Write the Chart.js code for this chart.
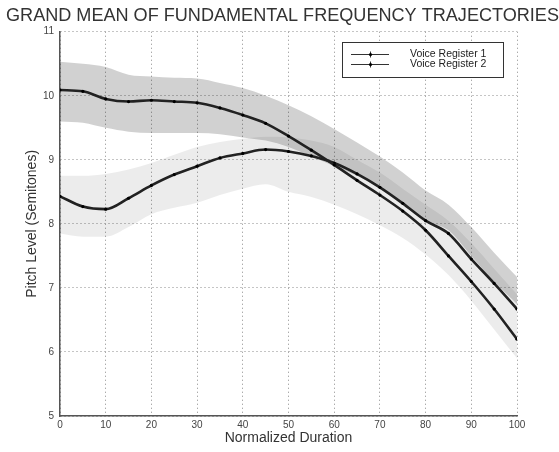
<!DOCTYPE html>
<html><head><meta charset="utf-8">
<script src="https://cdn.jsdelivr.net/npm/chart.js@4.4.1/dist/chart.umd.min.js"></script>
<style>html,body{margin:0;padding:0;background:#fff;}</style>
</head><body>
<canvas id="c" width="559" height="452"></canvas>
<script>
// ---- data ----
const durations = [0,5,10,15,20,25,30,35,40,45,50,55,60,65,70,75,80,85,90,95,100];
const register1 = [10.09,10.07,9.95,9.91,9.93,9.91,9.89,9.81,9.70,9.57,9.37,9.15,8.92,8.68,8.45,8.20,7.90,7.50,7.10,6.67,6.20];
const register2 = [8.43,8.27,8.23,8.40,8.60,8.77,8.90,9.03,9.10,9.16,9.13,9.06,8.95,8.78,8.57,8.32,8.05,7.85,7.45,7.07,6.67];
const band1Upper = [10.53,10.50,10.45,10.33,10.30,10.28,10.27,10.20,10.12,10.00,9.85,9.68,9.48,9.27,9.05,8.80,8.52,8.30,7.95,7.55,7.17];
const band1Lower = [9.60,9.58,9.50,9.44,9.42,9.42,9.42,9.40,9.35,9.30,9.20,9.05,8.90,8.75,8.55,8.30,8.05,7.90,7.50,7.10,6.75];
const band2Upper = [8.75,8.75,8.78,8.85,8.95,9.08,9.20,9.28,9.33,9.36,9.35,9.30,9.20,9.00,8.80,8.55,8.30,8.05,7.70,7.30,6.90];
const band2Lower = [7.85,7.80,7.80,7.95,8.15,8.25,8.33,8.45,8.55,8.62,8.50,8.42,8.30,8.15,7.98,7.78,7.52,7.20,6.80,6.35,5.90];
const seriesNames = ['Voice Register 1','Voice Register 2'];
const xTickValues = [0,10,20,30,40,50,60,70,80,90,100];
const yTickValues = [5,6,7,8,9,10,11];
const chartTitle = 'GRAND MEAN OF FUNDAMENTAL FREQUENCY TRAJECTORIES';
const xTitle = 'Normalized Duration';
const yTitle = 'Pitch Level (Semitones)';

const pts = arr => arr.map((v,i)=>({x:durations[i], y:v}));
const FONT = "'Liberation Sans', Arial, sans-serif";

const lineStyle = {
  borderColor:'#222', borderWidth:2.6, pointRadius:1.6, pointBackgroundColor:'#000',
  pointBorderWidth:0, cubicInterpolationMode:'monotone', fill:false, order:0
};
const bandStyle = { borderWidth:0, pointRadius:0, cubicInterpolationMode:'monotone' };

const legendBox = {
  id:'legendBox',
  afterDraw(chart){
    const ctx = chart.ctx;
    ctx.save();
    ctx.fillStyle = '#fff';
    ctx.fillRect(342, 42, 161, 35);
    ctx.strokeStyle = '#333'; ctx.lineWidth = 1;
    ctx.strokeRect(342.5, 42.5, 161, 35);
    const names = chart.data.datasets.filter(d=>d.isSeries).map(d=>d.label);
    ctx.font = "10.5px " + FONT;
    ctx.textBaseline = 'middle'; ctx.textAlign = 'left';
    names.forEach((n,i)=>{
      const y = 54 + i*10;
      ctx.strokeStyle = '#333'; ctx.lineWidth = 1;
      ctx.beginPath(); ctx.moveTo(351, y+0.5); ctx.lineTo(389, y+0.5); ctx.stroke();
      ctx.beginPath(); ctx.moveTo(370.5, y-2.5); ctx.lineTo(370.5, y+3.5); ctx.stroke();
      ctx.fillStyle = '#000';
      ctx.beginPath(); ctx.arc(370.5, y+0.5, 1.6, 0, Math.PI*2); ctx.fill();
      ctx.fillStyle = '#222';
      ctx.fillText(n, 410, y+0.5);
    });
    ctx.restore();
  }
};

new Chart(document.getElementById('c'), {
  type:'line',
  data:{ datasets:[
    Object.assign({label:seriesNames[0], data:pts(register1), isSeries:true}, lineStyle),
    Object.assign({label:seriesNames[1], data:pts(register2), isSeries:true}, lineStyle),
    Object.assign({label:'band1u', data:pts(band1Upper), fill:'+1', backgroundColor:'rgba(0,0,0,0.18)', order:1}, bandStyle),
    Object.assign({label:'band1l', data:pts(band1Lower), fill:false, order:1}, bandStyle),
    Object.assign({label:'band2u', data:pts(band2Upper), fill:'+1', backgroundColor:'rgba(0,0,0,0.075)', order:2}, bandStyle),
    Object.assign({label:'band2l', data:pts(band2Lower), fill:false, order:2}, bandStyle)
  ]},
  options:{
    responsive:false, animation:false, devicePixelRatio:1,
    layout:{ padding:{ left:6, right:0, top:0, bottom:4 } },
    plugins:{
      legend:{ display:false }, tooltip:{ enabled:false },
      title:{ display:true, text:chartTitle, color:'#333',
        font:{ family:FONT, size:18.1, weight:'normal' }, padding:{ top:5, bottom:5 } }
    },
    scales:{
      x:{ type:'linear', min:0, max:100,
        afterBuildTicks(s){ s.ticks = xTickValues.map(v=>({value:v})); },
        afterFit(s){ s.height = 32; },
        ticks:{ color:'#444', font:{ family:FONT, size:10 }, padding:3 },
        grid:{ color:'#8a8a8a', lineWidth:1, drawTicks:false },
        border:{ color:'#555', width:1.5, dash:[1,3] },
        title:{ display:true, text:xTitle, color:'#333', font:{ family:FONT, size:14 }, padding:{ top:0, bottom:1 } }
      },
      y:{ type:'linear', min:5, max:11,
        afterBuildTicks(s){ s.ticks = yTickValues.map(v=>({value:v})); },
        afterFit(s){ s.width = 54; },
        ticks:{ color:'#444', font:{ family:FONT, size:10 }, padding:6 },
        grid:{ color:'#8a8a8a', lineWidth:1, drawTicks:false },
        border:{ color:'#555', width:1.5, dash:[1,3] },
        title:{ display:true, text:yTitle, color:'#333', font:{ family:FONT, size:14 }, padding:{ top:18, bottom:0 } }
      },
      yRight:{ type:'linear', position:'right', min:5, max:11, display:true,
        afterFit(s){ s.width = 42; },
        ticks:{ display:false }, grid:{ display:false, drawTicks:false }, border:{ display:false }
      }
    }
  },
  plugins:[legendBox]
});
</script>
</body></html>
